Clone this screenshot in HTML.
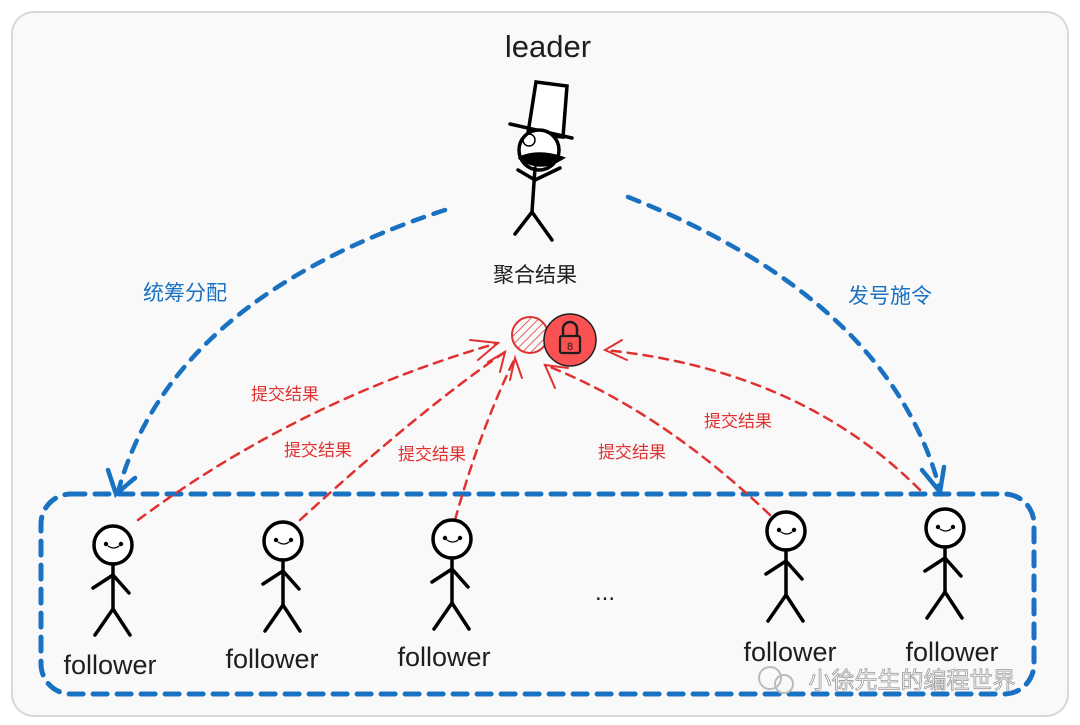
<!DOCTYPE html>
<html><head><meta charset="utf-8"><style>
html,body{margin:0;padding:0;background:#fff;}
svg{display:block}
text{font-family:"Liberation Sans","Noto Sans CJK SC",sans-serif}
.hand{font-family:"Comic Sans MS","Liberation Sans",sans-serif}
</style></head><body>
<svg width="1080" height="725" viewBox="0 0 1080 725" xmlns="http://www.w3.org/2000/svg">
<defs>
<pattern id="hatch" width="6" height="6" patternUnits="userSpaceOnUse" patternTransform="rotate(45)">
<line x1="0" y1="0" x2="0" y2="6" stroke="#e03131" stroke-width="1.5"/>
</pattern>
<g id="fol" stroke="#000" stroke-width="3.5" fill="none" stroke-linecap="round">
<circle cx="0" cy="0" r="19" fill="#fff"/>
<circle cx="-7" cy="-1" r="2.2" fill="#000" stroke="none"/>
<circle cx="8" cy="-1" r="2.2" fill="#000" stroke="none"/>
<path d="M-5 1 Q1 5 6 1" stroke-width="1.2"/>
<line x1="0" y1="19" x2="0" y2="64"/>
<line x1="0" y1="30" x2="-20" y2="43"/>
<line x1="0" y1="30" x2="16" y2="48"/>
<line x1="0" y1="64" x2="-18" y2="90"/>
<line x1="0" y1="64" x2="17" y2="90"/>
</g>
</defs>
<rect x="12" y="12" width="1056" height="704" rx="22" fill="#f9f9f9" stroke="#d8d8d8" stroke-width="2"/>

<rect x="41" y="494" width="993" height="200" rx="30" fill="none" stroke="#1971c2" stroke-width="5" stroke-dasharray="14 10" stroke-linecap="round"/>

<path d="M445 210 Q170 300 118 492" fill="none" stroke="#1971c2" stroke-width="4.5" stroke-dasharray="12 10" stroke-linecap="round"/>
<path d="M108 470 L116 494 L135 478" fill="none" stroke="#1971c2" stroke-width="4.5" stroke-linecap="round"/>
<path d="M628 197 Q890 300 940 490" fill="none" stroke="#1971c2" stroke-width="4.5" stroke-dasharray="12 10" stroke-linecap="round"/>
<path d="M922 470 L940 492 L944 467" fill="none" stroke="#1971c2" stroke-width="4.5" stroke-linecap="round"/>

<g fill="none" stroke="#e03131" stroke-width="2.5" stroke-dasharray="9 7" stroke-linecap="round">
<path d="M138 520 Q300 400 498 343"/>
<path d="M300 520 Q420 410 505 352"/>
<path d="M455 520 Q480 430 515 358"/>
<path d="M770 515 Q660 410 545 365"/>
<path d="M920 490 Q800 370 605 350"/>
</g>
<g fill="none" stroke="#e03131" stroke-width="2" stroke-linecap="round">
<path d="M470 340 L498 343 L478 360"/>
<path d="M488 362 L505 352 L500 372"/>
<path d="M510 380 L515 358 L522 378"/>
<path d="M555 388 L545 365 L568 368"/>
<path d="M622 340 L605 350 L627 360"/>
</g>

<circle cx="530" cy="335" r="18" fill="url(#hatch)" stroke="#e03131" stroke-width="2"/>
<circle cx="570" cy="340" r="26" fill="#fa5252" stroke="#1e1e1e" stroke-width="1.5"/>
<path d="M563 336 V329 a7 7 0 0 1 14 0 V336" fill="none" stroke="#1e1e1e" stroke-width="2.5"/>
<rect x="560" y="336" width="20" height="17" rx="2" fill="none" stroke="#1e1e1e" stroke-width="2.2"/>
<text x="570" y="350" font-size="11" text-anchor="middle" fill="#1e1e1e">8</text>

<text x="548" y="57" class="hand" font-size="31" text-anchor="middle" fill="#1e1e1e">leader</text>
<g stroke="#000" stroke-width="3.5" fill="none" stroke-linecap="round">
<path d="M536 82 L567 86 L563 137 L528 133 Z" fill="#fff"/>
<line x1="510" y1="124" x2="572" y2="138"/>
<circle cx="539" cy="150" r="20" fill="#fff"/>
<path d="M520 158 Q538 150 562 158 Q540 172 520 158" fill="#000"/>
<circle cx="529" cy="140" r="6" stroke-width="1.5"/>
<line x1="535" y1="168" x2="532" y2="212"/>
<line x1="535" y1="180" x2="518" y2="170"/>
<line x1="535" y1="180" x2="560" y2="168"/>
<line x1="532" y1="212" x2="515" y2="234"/>
<line x1="532" y1="212" x2="552" y2="240"/>
</g>
<text x="535" y="282" font-size="21" text-anchor="middle" fill="#1e1e1e">聚合结果</text>

<use href="#fol" x="113" y="545"/>
<use href="#fol" x="283" y="541"/>
<use href="#fol" x="452" y="539"/>
<use href="#fol" x="786" y="531"/>
<use href="#fol" x="945" y="528"/>
<g class="hand" font-size="27" fill="#1e1e1e" text-anchor="middle">
<text x="110" y="674">follower</text>
<text x="272" y="668">follower</text>
<text x="444" y="666">follower</text>
<text x="790" y="661">follower</text>
<text x="952" y="661">follower</text>
</g>
<text x="605" y="600" font-size="24" text-anchor="middle" fill="#1e1e1e">...</text>

<g font-size="21" fill="#1971c2" text-anchor="middle">
<text x="185" y="300">统筹分配</text>
<text x="890" y="303">发号施令</text>
</g>
<g font-size="17" fill="#e03131" text-anchor="middle">
<text x="285" y="400">提交结果</text>
<text x="318" y="456">提交结果</text>
<text x="432" y="460">提交结果</text>
<text x="632" y="458">提交结果</text>
<text x="738" y="427">提交结果</text>
</g>

<circle cx="770" cy="678" r="11" fill="none" stroke="#bbb" stroke-width="2"/>
<circle cx="784" cy="684" r="9" fill="none" stroke="#bbb" stroke-width="2"/>
<text x="912" y="688" font-size="23" text-anchor="middle" fill="#fff" stroke="#999" stroke-width="0.8">小徐先生的编程世界</text>
</svg>
</body></html>
